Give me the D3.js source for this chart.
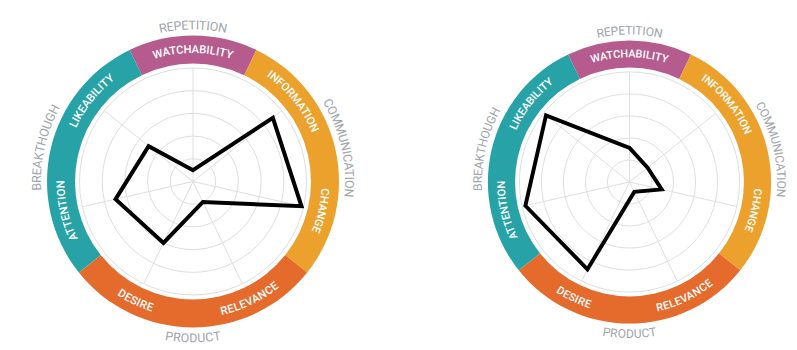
<!DOCTYPE html>
<html>
<head>
<meta charset="utf-8">
<script src="https://cdn.jsdelivr.net/npm/d3@7"></script>
<style>
  html, body { margin: 0; padding: 0; background: #ffffff; }
  svg { display: block; font-family: Roboto, "Noto Sans", sans-serif; }
</style>
</head>
<body>
<svg id="chart" width="797" height="350"></svg>
<script>
// Axes of the radar, clockwise from 12 o'clock
const axes = ["WATCHABILITY", "INFORMATION", "CHANGE", "RELEVANCE", "DESIRE", "ATTENTION", "LIKEABILITY"];
// Outer groups and the axis range each one covers (first axis, axis count)
const groups = ["REPETITION", "COMMUNICATION", "PRODUCT", "BREAKTHOUGH"];
const groupStart = [0, 1, 3, 5];
const groupSize = [1, 2, 2, 2];
const groupColors = ["#b65b8d", "#eba12b", "#e56b2d", "#27a3a8"];
// Scores (0-100) for each axis
const leftValues = [10, 90, 98, 20, 60, 70, 50];
const rightValues = [31, 21, 30, 10, 88, 97, 97];
const gridTicks = [20, 40, 60, 80, 100];

const svg = d3.select("#chart");
const TAU = 2 * Math.PI;

function drawRadar(cx, cy, k, values) {
  const rGrid = 113.5, rIn = 118, rOut = 146, rOuterLabel = 156.5, rRingLabel = 132.5;
  const g = svg.append("g").attr("transform", `translate(${cx},${cy}) scale(${k})`);
  const angle = d3.scaleLinear().domain([0, axes.length]).range([0, TAU]);
  const r = d3.scaleLinear().domain([0, 100]).range([0, rGrid]);
  const half = angle(0.5);
  const uid = "c" + Math.round(cx);

  // grid circles
  g.selectAll("circle.grid").data(gridTicks).join("circle")
    .attr("class", "grid").attr("r", d => r(d))
    .attr("fill", "none").attr("stroke", "#dedede").attr("stroke-width", 1);

  // spokes
  g.selectAll("line.spoke").data(axes).join("line")
    .attr("class", "spoke")
    .attr("x1", 0).attr("y1", 0)
    .attr("x2", (d, i) => r(100) * Math.sin(angle(i)))
    .attr("y2", (d, i) => -r(100) * Math.cos(angle(i)))
    .attr("stroke", "#dedede").attr("stroke-width", 1);

  // coloured ring, one arc per group
  const arc = d3.arc().innerRadius(rIn).outerRadius(rOut);
  g.selectAll("path.band").data(groups).join("path")
    .attr("class", "band")
    .attr("d", (d, i) => arc({
      startAngle: angle(groupStart[i]) - half,
      endAngle: angle(groupStart[i] + groupSize[i]) - half
    }))
    .attr("fill", (d, i) => groupColors[i]);

  // text on an arc centred on angle a; flipped on the lower part so it reads upright
  function arcText(label, a, radius, id) {
    const flip = Math.cos(a) < -0.5;
    const span = Math.PI / 2.2;
    const a0 = flip ? a + span : a - span;
    const a1 = flip ? a - span : a + span;
    const d = `M${radius * Math.sin(a0)},${-radius * Math.cos(a0)} ` +
      `A${radius},${radius} 0 0 ${flip ? 0 : 1} ${radius * Math.sin(a1)},${-radius * Math.cos(a1)}`;
    g.append("path").attr("id", id).attr("d", d).attr("fill", "none");
    const t = g.append("text").attr("dy", "0.35em");
    t.append("textPath").attr("href", "#" + id)
      .attr("startOffset", "50%").attr("text-anchor", "middle").text(label);
    return t;
  }

  axes.forEach((name, i) => {
    arcText(name, angle(i), rRingLabel, `${uid}-ax${i}`)
      .attr("fill", "#ffffff").attr("font-size", 11.2).attr("font-weight", 500)
      .attr("letter-spacing", 0.2);
  });
  groups.forEach((name, i) => {
    const mid = angle(groupStart[i] + groupSize[i] / 2) - half;
    arcText(name, mid, rOuterLabel, `${uid}-gr${i}`)
      .attr("fill", "#a0a4ab").attr("font-size", 12.4).attr("font-weight", 400);
  });

  // score polygon
  const line = d3.lineRadial()
    .angle((d, i) => angle(i))
    .radius(d => r(d))
    .curve(d3.curveLinearClosed);
  g.append("path").datum(values)
    .attr("d", line)
    .attr("fill", "none").attr("stroke", "#000000")
    .attr("stroke-width", 4).attr("stroke-linejoin", "miter");
}

drawRadar(193, 181.5, 1, leftValues);
drawRadar(629.5, 182, 0.97, rightValues);
</script>
</body>
</html>
